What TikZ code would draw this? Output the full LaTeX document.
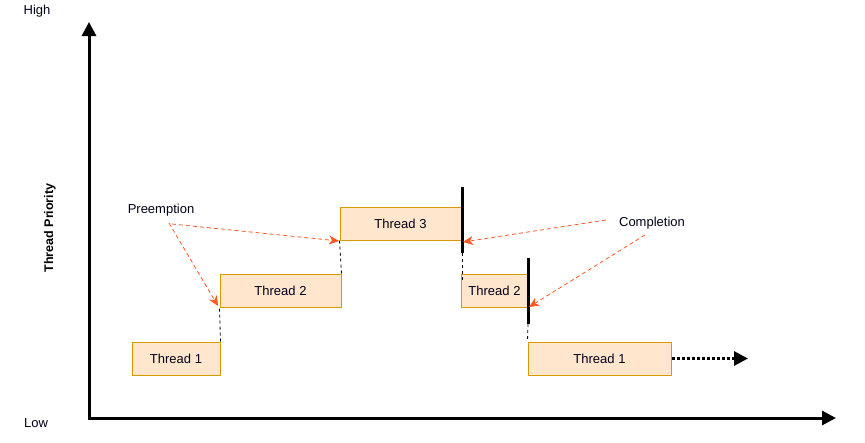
\documentclass[tikz,border=0pt]{standalone}
\usepackage{fontspec}
\setmainfont{Liberation Sans}
\usetikzlibrary{arrows.meta}
\definecolor{boxfill}{HTML}{FFE6CC}
\definecolor{boxline}{HTML}{D79B00}
\definecolor{arrorange}{HTML}{FF5722}
\begin{document}
\begin{tikzpicture}[x=1pt,y=-1pt,
  thread/.style={draw=boxline,fill=boxfill,line width=1pt,minimum height=33pt,inner sep=0pt,font=\fontsize{13}{15}\selectfont,text=black!90!blue},
  axis/.style={line width=3pt,-{Triangle[length=14pt,width=14pt]}},
  bar/.style={line width=3pt},
  guide/.style={dashed,line width=0.8pt,dash pattern=on 3pt off 3pt},
  note/.style={dashed,draw=arrorange,line width=0.8pt,dash pattern=on 4pt off 3pt,-{Stealth[length=10pt,width=9pt,inset=3pt]}},
  lbl/.style={font=\fontsize{13}{15}\selectfont,text=black!90!blue}]
\useasboundingbox (0,0) rectangle (865,442);
% axes
\coordinate (origin) at (89,418);
\coordinate (ytip) at (89,22);
\coordinate (xtip) at (836,418);
\draw[axis] ([yshift=1.5pt]origin) -- (ytip);
\draw[axis] ([xshift=-1.5pt]origin) -- (xtip);
\node[lbl] (high) at (37,11) {High};
\node[lbl] (low) at (36,423) {Low};
\node[font=\bfseries\fontsize{12.5}{14}\selectfont,rotate=90] (prio) at (50,228) {Thread Priority};
% threads
\node[thread,minimum width=88pt] (t1a) at (176,358.5) {Thread 1};
\node[thread,minimum width=121pt] (t2a) at (280.5,290.5) {Thread 2};
\node[thread,minimum width=121pt] (t3) at (400.5,223.5) {Thread 3};
\node[thread,minimum width=67pt] (t2b) at (494.5,290.5) {Thread 2};
\node[thread,minimum width=143pt] (t1b) at (599.5,358.5) {Thread 1};
% completion bars
\coordinate (b1top) at (462,187);
\coordinate (b1bot) at (462,253);
\coordinate (b2top) at (528,258);
\coordinate (b2bot) at (528,324);
\draw[bar] (b1top) -- (b1bot);
\draw[bar] (b2top) -- (b2bot);
% guides
\draw[guide] (t1a.north east) -- (t2a.south west);
\draw[guide] (t2a.north east) -- (t3.south west);
\coordinate (g3) at (462,282);
\draw[guide] (b1bot) -- (g3);
\draw[guide] (b2bot) -- (t1b.north west);
% continuation
\coordinate (cont) at (748,358.5);
\draw[line width=3pt,dash pattern=on 3pt off 2pt,-{Triangle[length=14pt,width=14pt]}] (t1b.east) -- (cont);
% labels and notes
\node[lbl] (pre) at (161,210) {Preemption};
\node[lbl] (comp) at (652,223) {Completion};
\coordinate (p1) at (169,223);
\coordinate (p2) at (172,224);
\coordinate (tp1) at (218,306);
\coordinate (tp2) at (339,241);
\draw[note] (p1) -- (tp1);
\draw[note] (p2) -- (tp2);
\coordinate (c1) at (606,220);
\coordinate (c2) at (645,235);
\coordinate (tc1) at (463,242);
\coordinate (tc2) at (529,307);
\draw[note] (c1) -- (tc1);
\draw[note] (c2) -- (tc2);
\end{tikzpicture}
\end{document}
